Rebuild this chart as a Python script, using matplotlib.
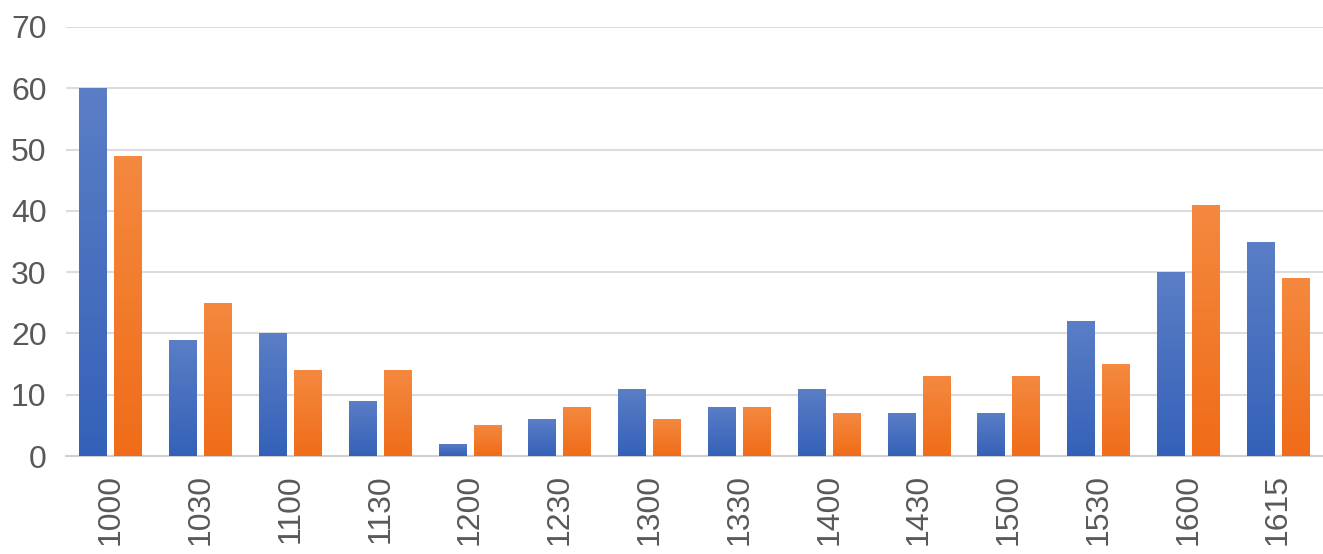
import matplotlib
matplotlib.use("Agg")
import matplotlib.pyplot as plt
import numpy as np
from matplotlib.colors import LinearSegmentedColormap

categories = ["1000", "1030", "1100", "1130", "1200", "1230", "1300",
              "1330", "1400", "1430", "1500", "1530", "1600", "1615"]
series_blue = [60, 19, 20, 9, 2, 6, 11, 8, 11, 7, 7, 22, 30, 35]
series_orange = [49, 25, 14, 14, 5, 8, 6, 8, 7, 13, 13, 15, 41, 29]
yticks = [0, 10, 20, 30, 40, 50, 60, 70]

plt.rcParams['font.family'] = ['Liberation Sans', 'DejaVu Sans']

fig = plt.figure(figsize=(13.23, 5.54), dpi=100)
ax = fig.add_axes([66/1323, (554-456)/554, (1323-66)/1323, (456-27)/554])

x = np.arange(len(categories))
w = 0.31
off = 0.195
bars_b = ax.bar(x - off, series_blue, w, color="#4a6fc0", zorder=2)
bars_o = ax.bar(x + off, series_orange, w, color="#f07a2a", zorder=2)

cmap_b = LinearSegmentedColormap.from_list("b", ["#3461b8", "#5b7ec6"])
cmap_o = LinearSegmentedColormap.from_list("o", ["#f06c18", "#f4893f"])
grad = np.linspace(0, 1, 256).reshape(-1, 1)

ax.set_xlim(-0.5, len(categories) - 0.5)
ax.set_ylim(0, 70)

for bars, cm in ((bars_b, cmap_b), (bars_o, cmap_o)):
    for b in bars:
        bx, by = b.get_x(), b.get_y()
        bw, bh = b.get_width(), b.get_height()
        im = ax.imshow(grad, cmap=cm, origin="lower", aspect="auto",
                       extent=[bx, bx + bw, by, by + bh], zorder=3,
                       interpolation="bicubic")
        im.set_clip_path(b)
ax.set_xlim(-0.5, len(categories) - 0.5)
ax.set_ylim(0, 70)

ax.set_yticks(yticks)
ax.set_yticklabels([str(v) for v in yticks])
ax.set_xticks(x)
ax.set_xticklabels(categories, rotation=90)
ax.tick_params(axis="both", length=0, labelsize=23, labelcolor="#595959")
ax.tick_params(axis="y", pad=14)
ax.tick_params(axis="x", pad=13)
ax.yaxis.grid(True, color="#dcdcdc", linewidth=1.5, zorder=0)
ax.set_axisbelow(True)
for s in ["top", "right", "left"]:
    ax.spines[s].set_visible(False)
ax.spines["bottom"].set_color("#d0d0d0")
ax.spines["bottom"].set_linewidth(1.5)

fig.savefig("out.png", dpi=100)
